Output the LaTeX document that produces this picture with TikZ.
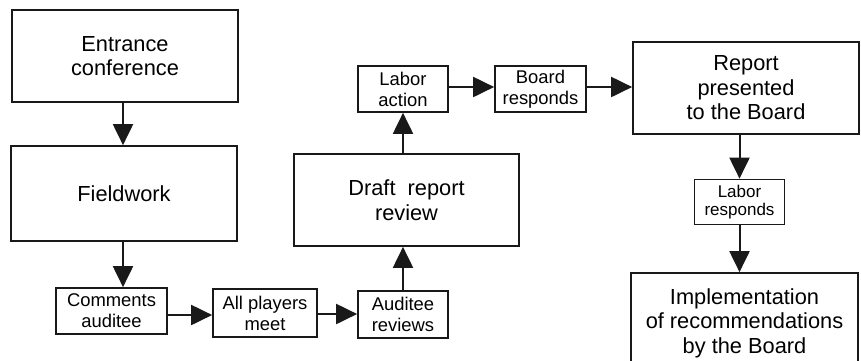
\documentclass[tikz,border=0pt]{standalone}
\usepackage{fontspec}
\setmainfont{Liberation Sans}
\usetikzlibrary{arrows.meta}

\tikzset{
  box/.style={draw=black!90, line width=1.7pt, rectangle, align=center, inner sep=0pt,
              text=black},
  bigbox/.style={box, font=\fontsize{21.8}{24.5}\selectfont},
  smallbox/.style={box, font=\fontsize{18.4}{21}\selectfont},
  tinybox/.style={box, font=\fontsize{17}{18}\selectfont},
  flow/.style={draw=black!90, line width=2pt, -{Triangle[length=21pt, width=20pt]}}
}

\begin{document}
\begin{tikzpicture}[x=1pt, y=-1pt]
  \path[use as bounding box, clip] (0,0) rectangle (861,360);

  % left column
  \node[bigbox, minimum width=226pt, minimum height=92pt] (entr) at (125,56) {Entrance\\conference};
  \node[bigbox, minimum width=226pt, minimum height=95pt] (field) at (124,193.5) {Fieldwork};

  % bottom row
  \node[smallbox, minimum width=111pt, minimum height=46pt] (comm) at (111.5,311) {Comments\\auditee};
  \node[smallbox, minimum width=104pt, minimum height=48pt] (meet) at (265,313) {All players\\meet};
  \node[smallbox, minimum width=90pt, minimum height=47pt] (audrev) at (403,314.5) {Auditee\\reviews};

  % middle column
  \node[bigbox, minimum width=225pt, minimum height=92pt] (draft) at (406.5,200) {Draft~~report\\review};
  \node[smallbox, minimum width=90pt, minimum height=46pt] (labact) at (403,89) {Labor\\action};
  \node[smallbox, minimum width=91pt, minimum height=46pt] (brdresp) at (540.5,89) {Board\\responds};

  % right column
  \node[bigbox, minimum width=226pt, minimum height=92pt] (report) at (746,88) {Report\\presented\\to the Board};
  \node[tinybox, minimum width=90pt, minimum height=45pt] (labresp) at (739.5,202) {Labor\\responds};
  \node[bigbox, minimum width=227pt, minimum height=100pt] (impl) at (744.5,323) {Implementation\\of recommendations\\by the Board};

  % connectors
  \draw[flow] (entr.south -| 123,0) -- (field.north -| 123,0);
  \draw[flow] (field.south -| 123,0) -- (comm.north -| 123,0);
  \draw[flow] (comm.east |- 0,315) -- (meet.west |- 0,315);
  \draw[flow] (meet.east |- 0,314) -- (audrev.west |- 0,314);
  \draw[flow] (audrev.north) -- (audrev.north |- draft.south);
  \draw[flow] (draft.north -| labact.south) -- (labact.south);
  \draw[flow] (labact.east |- 0,87) -- (brdresp.west |- 0,87);
  \draw[flow] (brdresp.east |- 0,87) -- (report.west |- 0,87);
  \draw[flow] (report.south -| labresp.north) -- (labresp.north);
  \draw[flow] (labresp.south) -- (labresp.south |- impl.north);
\end{tikzpicture}
\end{document}
